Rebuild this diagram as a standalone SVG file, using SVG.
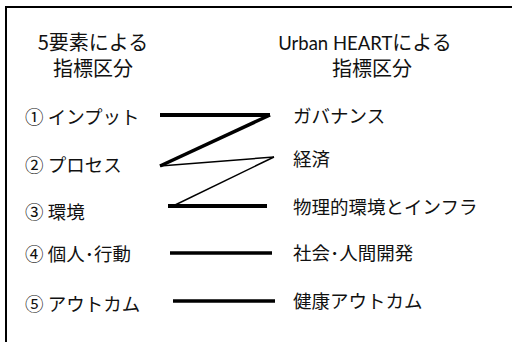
<svg xmlns="http://www.w3.org/2000/svg" width="512" height="342" viewBox="0 0 512 342">
<style>
.t{font-family:"Noto Sans CJK JP","Noto Sans",sans-serif;fill:#111;}
.h{font-size:20px;text-anchor:middle;}
.b{font-size:18.5px;}
.c{stroke:#000;fill:none;stroke-linecap:butt;}
.thick{stroke-width:4;}
.thin{stroke-width:1.5;}
</style>
<rect x="0" y="0" width="512" height="342" fill="#fff"/>
<path d="M6 342 V7 H512" fill="none" stroke="#000" stroke-width="2"/>
<g id="header-left"><text class="t h" x="93" y="50">5要素による</text><text class="t h" x="93" y="76">指標区分</text></g>
<g id="header-right"><text class="t h" x="365" y="50"><tspan font-family="Lato,'Noto Sans CJK JP',sans-serif" font-size="18.5">Urban HEART</tspan>による</text><text class="t h" x="372" y="76">指標区分</text></g>
<g id="l1"><text class="t b" x="25" y="124">① インプット</text></g>
<g id="l2"><text class="t b" x="25" y="172">② プロセス</text></g>
<g id="l3"><text class="t b" x="25" y="219">③ 環境</text></g>
<g id="l4"><text class="t b" x="25" y="261">④ 個人･行動</text></g>
<g id="l5"><text class="t b" x="25" y="311">⑤ アウトカム</text></g>
<g id="r1"><text class="t b" x="293" y="123">ガバナンス</text></g>
<g id="r2"><text class="t b" x="293" y="166">経済</text></g>
<g id="r3"><text class="t b" x="293" y="214">物理的環境とインフラ</text></g>
<g id="r4"><text class="t b" x="293" y="260">社会･人間開発</text></g>
<g id="r5"><text class="t b" x="293" y="308">健康アウトカム</text></g>
<g id="connectors">
<line class="c thick" x1="160" y1="115" x2="270" y2="115"/>
<line class="c" stroke-width="3.5" x1="270" y1="115" x2="160" y2="166"/>
<line class="c thin" x1="160" y1="166" x2="274" y2="157"/>
<line class="c thin" x1="274" y1="157" x2="173" y2="206"/>
<line class="c thick" x1="168" y1="206" x2="267" y2="206"/>
<line class="c" stroke-width="3.5" x1="170" y1="253" x2="272" y2="253"/>
<line class="c" stroke-width="3.5" x1="173" y1="301" x2="275" y2="301"/>
</g>
</svg>
